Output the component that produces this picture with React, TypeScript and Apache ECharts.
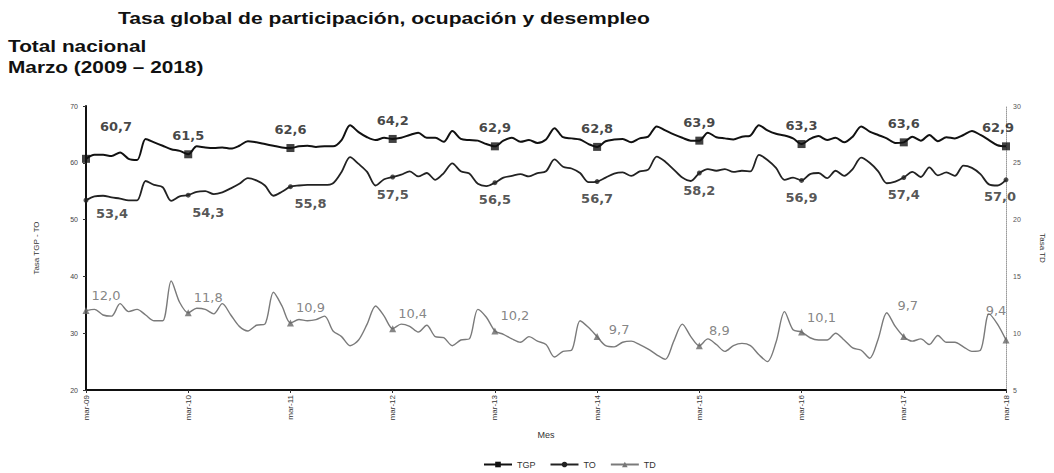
import React, { useEffect, useRef } from 'react';
import * as echarts from 'echarts';

const monthNames = ['mar', 'abr', 'may', 'jun', 'jul', 'ago', 'sep', 'oct', 'nov', 'dic', 'ene', 'feb'];
const yearSuffixes = ['09', '10', '11', '12', '13', '14', '15', '16', '17', '18', '19'];

const tgp = [
  60.7, 61.4, 61.4, 61.2, 61.8, 60.7, 60.5, 64.2, 63.6, 63.0, 62.4, 62.1,
  61.5, 62.9, 62.7, 62.6, 62.7, 62.5, 63.0, 63.8, 63.6, 63.3, 63.0, 62.7,
  62.6, 62.9, 63.0, 62.8, 62.9, 62.9, 64.0, 66.6, 65.4, 64.5, 64.0, 64.4,
  64.2, 64.4, 64.9, 65.3, 64.4, 64.4, 63.7, 65.6, 64.2, 64.0, 63.9, 63.3,
  62.9, 63.9, 64.4, 63.7, 64.0, 63.5, 64.1, 66.1, 64.5, 64.3, 64.1, 63.3,
  62.8, 63.8, 64.1, 64.2, 63.6, 64.3, 64.6, 66.4, 65.7, 65.0, 64.4, 63.9,
  63.9, 65.3, 64.5, 64.3, 64.1, 64.6, 64.8, 66.6, 65.7, 65.1, 64.8, 64.3,
  63.3, 64.2, 64.7, 64.0, 64.4, 63.6, 64.6, 66.4, 65.5, 64.9, 64.3, 63.5,
  63.6, 64.6, 63.9, 64.9, 63.8, 64.5, 64.3, 64.9, 65.6, 64.9, 64.0, 63.1,
  62.9,
];

const to = [
  53.4, 54.1, 54.2, 53.9, 53.7, 53.4, 53.4, 56.8, 56.1, 55.7, 53.3, 54.1,
  54.3, 54.9, 55.0, 54.5, 54.8, 55.5, 56.3, 57.3, 56.9, 56.0, 54.2, 54.9,
  55.8, 56.0, 56.1, 56.1, 56.1, 56.4, 58.4, 61.0, 59.8, 58.4, 56.0, 57.1,
  57.5, 57.9, 58.5, 57.6, 58.2, 57.0, 58.2, 59.9, 58.5, 58.1, 56.3, 55.9,
  56.5, 57.4, 57.7, 58.0, 57.6, 58.2, 58.5, 60.6, 59.3, 59.0, 58.2, 56.6,
  56.7, 57.4, 58.1, 58.3, 57.7, 58.5, 58.8, 61.1, 60.2, 58.8, 57.4, 56.8,
  58.2, 58.9, 58.6, 58.9, 58.4, 58.6, 58.5, 61.4, 60.5, 59.1, 57.0, 57.4,
  56.9, 58.0, 58.2, 57.3, 58.6, 57.7, 58.9, 60.9, 60.0, 58.5, 56.4, 56.7,
  57.4, 58.4, 57.5, 59.2, 57.8, 58.3, 57.7, 59.5, 59.1, 58.0, 56.2, 56.0,
  57.0,
];

const td = [
  12.0, 12.1, 11.6, 11.5, 12.6, 11.9, 12.1, 11.6, 11.1, 11.1, 14.6, 12.7,
  11.8, 12.2, 12.1, 11.7, 12.6, 11.6, 10.6, 10.2, 10.7, 10.8, 13.6, 12.4,
  10.9, 11.2, 11.1, 11.2, 11.5, 10.2, 9.7, 8.9, 9.4, 10.8, 12.4, 11.5,
  10.4, 10.8, 10.6, 10.1, 10.7, 9.7, 9.6, 8.9, 9.4, 9.5, 12.1, 11.4,
  10.2, 9.9, 9.5, 9.2, 9.7, 9.3, 9.0, 7.9, 8.4, 8.5, 11.1, 10.5,
  9.7, 8.9, 8.8, 9.2, 9.3, 9.0, 8.6, 8.1, 7.7, 9.3, 10.8, 9.7,
  8.9, 9.5, 9.0, 8.4, 8.9, 9.1, 8.9, 8.1, 7.5, 9.2, 11.9, 10.3,
  10.1, 9.6, 9.4, 9.4, 10.0, 9.4, 8.7, 8.5, 7.8, 9.5, 11.8, 10.6,
  9.7, 9.3, 9.5, 9.0, 9.8, 9.2, 9.2, 8.8, 8.4, 8.5, 11.7, 10.8,
  9.4,
];

const marchIndex = [0, 12, 24, 36, 48, 60, 72, 84, 96, 108];

const FONT = '"Liberation Sans", Arial, sans-serif';
const WIDE = '"DejaVu Sans", sans-serif';

function buildCategories(n: number): string[] {
  const out: string[] = [];
  for (let i = 0; i < n; i++) {
    const m = i % 12;
    const yi = Math.floor(i / 12) + (m >= 10 ? 1 : 0);
    out.push(monthNames[m] + '-' + yearSuffixes[yi]);
  }
  return out;
}

const fmt = (v: number) => v.toFixed(1).replace('.', ',');

export default function App() {
  const ref = useRef<HTMLDivElement>(null);

  useEffect(() => {
    const chart = echarts.init(ref.current!, null, { renderer: 'svg' });
    const categories = buildCategories(tgp.length);

    const tgpOffsets: Record<number, number[]> = { 0: [30, -14], 108: [-8, 0] };
    const toOffsets: Record<number, number[]> = { 0: [26, -4], 12: [20, 0], 24: [20, 0], 108: [-6, 0] };
    const tdOffsets: Record<number, number[]> = { 60: [22, 8], 96: [4, -16], 108: [-10, -15] };

    const marchPoints = (arr: number[], offsets: Record<number, number[]>) =>
      marchIndex.map((i) => ({
        value: [i, arr[i]],
        label: offsets[i] ? { offset: offsets[i] } : undefined,
      }));

    const option: any = {
      animation: false,
      backgroundColor: '#ffffff',
      textStyle: { fontFamily: FONT },
      grid: { left: 86, right: 45, top: 106, bottom: 83 },
      graphic: [
        {
          type: 'text', x: 118, y: 10, scaleX: 1.24,
          style: { text: 'Tasa global de participación, ocupación y desempleo', font: 'bold 17px ' + FONT, fill: '#111', textVerticalAlign: 'top' },
        },
        {
          type: 'text', x: 8, y: 38, scaleX: 1.3,
          style: { text: 'Total nacional', font: 'bold 16px ' + FONT, fill: '#111', textVerticalAlign: 'top' },
        },
        {
          type: 'text', x: 8, y: 59, scaleX: 1.3,
          style: { text: 'Marzo (2009 – 2018)', font: 'bold 16px ' + FONT, fill: '#111', textVerticalAlign: 'top' },
        },
      ],
      legend: {
        left: 478, top: 455,
        itemWidth: 28, itemHeight: 7, itemGap: 14,
        textStyle: { fontSize: 9, color: '#333', fontFamily: FONT },
        data: ['TGP', 'TO', 'TD'],
      },
      xAxis: {
        type: 'category',
        data: categories,
        boundaryGap: false,
        name: 'Mes',
        nameLocation: 'middle',
        nameGap: 40,
        nameTextStyle: { fontSize: 9, color: '#333' },
        axisLine: { lineStyle: { color: '#111', width: 2 } },
        axisTick: { interval: 11, length: 3, lineStyle: { color: '#333' } },
        axisLabel: { interval: 11, rotate: 90, fontSize: 8, color: '#333', margin: 5 },
        splitLine: { show: false },
      },
      yAxis: [
        {
          type: 'value', min: 20, max: 70, interval: 10,
          name: 'Tasa TGP - TO', nameLocation: 'middle', nameGap: 46,
          nameTextStyle: { fontSize: 8, color: '#333' },
          axisLine: { show: true, lineStyle: { color: '#111', width: 2 } },
          axisTick: { show: true, length: 3, lineStyle: { color: '#333' } },
          axisLabel: { fontSize: 7, color: '#444', margin: 8 },
          splitLine: { show: false },
        },
        {
          type: 'value', min: 5, max: 30, interval: 5, position: 'right',
          name: 'Tasa TD', nameLocation: 'middle', nameGap: 32, nameRotate: -90,
          nameTextStyle: { fontSize: 8, color: '#333' },
          axisLine: { show: true, lineStyle: { color: '#999', width: 1, type: 'dotted' } },
          axisTick: { show: false },
          axisLabel: { fontSize: 7, color: '#555', margin: 7 },
          splitLine: { show: false },
        },
      ],
      series: [
        {
          name: 'TGP', type: 'line', data: tgp, yAxisIndex: 0, smooth: 0.3,
          showSymbol: false, symbol: 'rect', symbolSize: 8,
          lineStyle: { color: '#111', width: 2 }, itemStyle: { color: '#111' },
          z: 3,
        },
        {
          name: 'TO', type: 'line', data: to, yAxisIndex: 0, smooth: 0.3,
          showSymbol: false, symbol: 'circle', symbolSize: 5,
          lineStyle: { color: '#222', width: 1.8 }, itemStyle: { color: '#222' },
          z: 3,
        },
        {
          name: 'TD', type: 'line', data: td, yAxisIndex: 1, smooth: 0.3,
          showSymbol: false, symbol: 'triangle', symbolSize: 7,
          lineStyle: { color: '#7a7a7a', width: 1.4 }, itemStyle: { color: '#777' },
          z: 2,
        },
        {
          name: 'TGP', type: 'scatter', yAxisIndex: 0, symbol: 'rect', symbolSize: 8,
          itemStyle: { color: '#111' }, z: 5,
          data: marchPoints(tgp, tgpOffsets),
          label: {
            show: true, position: 'top', distance: 8,
            formatter: (p: any) => fmt(p.value[1]),
            fontSize: 13, fontWeight: 'bold', color: '#151515', fontFamily: WIDE,
          },
        },
        {
          name: 'TO', type: 'scatter', yAxisIndex: 0, symbol: 'circle', symbolSize: 5,
          itemStyle: { color: '#222' }, z: 5,
          data: marchPoints(to, toOffsets),
          label: {
            show: true, position: 'bottom', distance: 8,
            formatter: (p: any) => fmt(p.value[1]),
            fontSize: 13, fontWeight: 'bold', color: '#2a2a2a', fontFamily: WIDE,
          },
        },
        {
          name: 'TD', type: 'scatter', yAxisIndex: 1, symbol: 'triangle', symbolSize: 7,
          itemStyle: { color: '#666' }, z: 5,
          data: marchPoints(td, tdOffsets),
          label: {
            show: true, position: 'top', distance: 5, offset: [20, 0],
            formatter: (p: any) => fmt(p.value[1]),
            fontSize: 13, color: '#666', fontFamily: WIDE,
          },
        },
      ],
    };

    chart.setOption(option);
    return () => chart.dispose();
  }, []);

  return (
    <div
      ref={ref}
      style={{ width: 1054, height: 473, position: 'absolute', left: 0, top: 0, background: '#fff' }}
    />
  );
}
